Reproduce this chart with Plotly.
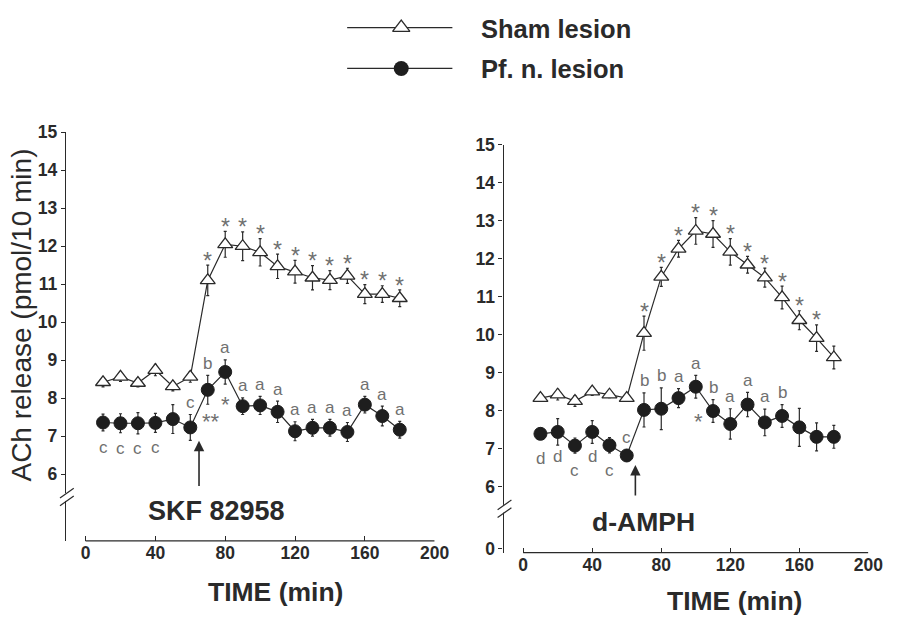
import plotly.graph_objects as go

W, H = 905, 618

# ---------------- data ----------------
time = [10, 20, 30, 40, 50, 60, 70, 80, 90, 100, 110, 120, 130, 140, 150, 160, 170, 180]

skf_sham = [8.42, 8.56, 8.40, 8.74, 8.31, 8.56, 11.10, 12.05, 12.00, 11.84, 11.47, 11.33,
            11.17, 11.11, 11.22, 10.74, 10.74, 10.63]
skf_sham_err = [0.12, 0.12, 0.10, 0.15, 0.12, 0.14, 0.40, 0.34, 0.38, 0.36, 0.32, 0.30,
                0.32, 0.25, 0.20, 0.25, 0.22, 0.22]
skf_pf = [7.36, 7.34, 7.34, 7.35, 7.45, 7.23, 8.22, 8.69, 7.79, 7.81, 7.64, 7.13,
          7.22, 7.22, 7.11, 7.83, 7.53, 7.17]
skf_pf_err = [0.22, 0.25, 0.28, 0.25, 0.38, 0.34, 0.38, 0.32, 0.22, 0.24, 0.28, 0.25,
              0.22, 0.22, 0.25, 0.22, 0.26, 0.22]

amph_sham = [8.33, 8.42, 8.25, 8.50, 8.42, 8.33, 10.04, 11.52, 12.26, 12.73, 12.65, 12.18,
             11.84, 11.50, 10.98, 10.38, 9.91, 9.40]
amph_sham_err = [0.08, 0.14, 0.14, 0.10, 0.08, 0.08, 0.45, 0.25, 0.22, 0.35, 0.35, 0.35,
                 0.22, 0.25, 0.30, 0.25, 0.35, 0.30]
amph_pf = [7.39, 7.44, 7.08, 7.44, 7.09, 6.82, 8.02, 8.05, 8.33, 8.63, 7.99, 7.65,
           8.16, 7.69, 7.86, 7.56, 7.31, 7.31]
amph_pf_err = [0.15, 0.35, 0.20, 0.30, 0.20, 0.15, 0.45, 0.55, 0.25, 0.30, 0.30, 0.40,
               0.32, 0.35, 0.30, 0.50, 0.37, 0.30]

# significance marks
skf_sham_stars = [70, 80, 90, 100, 110, 120, 130, 140, 150, 160, 170, 180]
amph_sham_stars = [70, 80, 90, 100, 110, 120, 130, 140, 150, 160, 170]
skf_pf_above = {60: "c", 70: "b", 80: "a", 90: "a", 100: "a", 110: "a", 120: "a",
                130: "a", 140: "a", 150: "a", 160: "a", 170: "a", 180: "a"}
skf_pf_below = {10: "c", 20: "c", 30: "c", 40: "c", 70: "**", 80: "*"}
amph_pf_above = {60: "c", 70: "b", 80: "b", 90: "a", 100: "a", 110: "b", 120: "a",
                 130: "a", 140: "a", 150: "b"}
amph_pf_below = {10: "d", 20: "d", 30: "c", 40: "d", 50: "c"}
amph_pf_side = {110: "*"}

yticks = [6, 7, 8, 9, 10, 11, 12, 13, 14, 15]
xticks = [0, 40, 80, 120, 160, 200]
injection_time = 65

# ---------------- styling helpers ----------------
FONT = "Arial, Liberation Sans, sans-serif"
INK = "#2a2a2a"
GRAY = "#707070"


def px(x):
    return x / W


def py(y):
    return 1 - y / H


fig = go.Figure()


def add_panel(xa, ya, sham, sham_err, pf, pf_err):
    fig.add_trace(go.Scatter(
        x=time, y=sham, xaxis=xa, yaxis=ya, mode="lines+markers",
        line=dict(color=INK, width=1.2),
        marker=dict(symbol="triangle-up", size=13, color="white",
                    line=dict(color=INK, width=1.3)),
        error_y=dict(type="data", array=sham_err, color=INK, thickness=1.2, width=1.5),
        showlegend=False))
    fig.add_trace(go.Scatter(
        x=time, y=pf, xaxis=xa, yaxis=ya, mode="lines+markers",
        line=dict(color=INK, width=1.2),
        marker=dict(symbol="circle", size=13, color="#1e1e1e",
                    line=dict(color="#1e1e1e", width=1)),
        error_y=dict(type="data", array=pf_err, color=INK, thickness=1.2, width=1.5),
        showlegend=False))


add_panel("x", "y", skf_sham, skf_sham_err, skf_pf, skf_pf_err)
add_panel("x2", "y2", amph_sham, amph_sham_err, amph_pf, amph_pf_err)

annotations = []


def note(**kw):
    kw.setdefault("xanchor", "center")
    kw.setdefault("yanchor", "middle")
    kw.setdefault("showarrow", False)
    annotations.append(kw)


def star_marks(xr, yr, times, vals, errs):
    for t in times:
        i = time.index(t)
        note(x=t, y=vals[i] + errs[i] + 0.30, xref=xr, yref=yr, text="*", yshift=-7,
             font=dict(family=FONT, size=23, color=GRAY))


def letter_marks(xr, yr, above, below, vals, errs, side=None):
    for t, s in above.items():
        i = time.index(t)
        note(x=t, y=vals[i] + errs[i] + 0.32, xref=xr, yref=yr, text=s,
             font=dict(family=FONT, size=17, color=GRAY))
    for t, s in below.items():
        i = time.index(t)
        star = "*" in s
        note(x=t + (2 if s == "**" else 0), y=vals[i] - 0.66, xref=xr, yref=yr, text=s,
             yshift=-7 if star else 0,
             font=dict(family=FONT, size=22 if star else 17, color=GRAY))
    if side:
        for t, s in side.items():
            i = time.index(t)
            note(x=t, y=vals[i] - 0.1, xref=xr, yref=yr, xshift=-15, text=s, yshift=-7,
                 font=dict(family=FONT, size=22, color=GRAY))


star_marks("x", "y", skf_sham_stars, skf_sham, skf_sham_err)
star_marks("x2", "y2", amph_sham_stars, amph_sham, amph_sham_err)
letter_marks("x", "y", skf_pf_above, skf_pf_below, skf_pf, skf_pf_err)
letter_marks("x2", "y2", amph_pf_above, amph_pf_below, amph_pf, amph_pf_err, amph_pf_side)

# injection arrows and labels
note(x=injection_time, y=6.88, ax=injection_time, ay=5.65, xref="x", yref="y",
     axref="x", ayref="y", text="", showarrow=True, arrowhead=2,
     arrowsize=1.3, arrowwidth=1.6, arrowcolor=INK)
note(x=injection_time, y=6.57, ax=injection_time, ay=5.73, xref="x2", yref="y2",
     axref="x2", ayref="y2", text="", showarrow=True, arrowhead=2,
     arrowsize=1.3, arrowwidth=1.6, arrowcolor=INK)
note(x=px(220), y=py(514), xref="paper", yref="paper", text="<b>SKF 82958</b>",
     font=dict(family=FONT, size=27, color=INK))
note(x=px(654), y=py(526), xref="paper", yref="paper", text="<b>d-AMPH</b>",
     font=dict(family=FONT, size=26.5, color=INK))

# axis titles
note(x=px(280), y=py(597), xref="paper", yref="paper", text="<b>TIME (min)</b>",
     font=dict(family=FONT, size=26.5, color=INK))
note(x=px(747), y=py(607), xref="paper", yref="paper", text="<b>TIME (min)</b>",
     font=dict(family=FONT, size=26.5, color=INK))
note(x=px(22), y=py(313), xref="paper", yref="paper",
     text="ACh release (pmol/10 min)", textangle=-90,
     font=dict(family=FONT, size=28, color=INK))

# legend text
note(x=px(487), y=py(19), xref="paper", yref="paper", xanchor="left",
     text="<b>Sham lesion</b>", font=dict(family=FONT, size=25.5, color=INK))
note(x=px(487), y=py(61), xref="paper", yref="paper", xanchor="left",
     text="<b>Pf. n. lesion</b>", font=dict(family=FONT, size=25.5, color=INK))

# legend glyphs on an overlay pixel axis
fig.add_trace(go.Scatter(x=[353, 408, 460], y=[18, 18, 18], xaxis="x3", yaxis="y3",
                         mode="lines", line=dict(color=INK, width=1.2), showlegend=False,
                         hoverinfo="skip"))
fig.add_trace(go.Scatter(x=[408], y=[18], xaxis="x3", yaxis="y3", mode="markers",
                         marker=dict(symbol="triangle-up", size=15, color="white",
                                     line=dict(color=INK, width=1.3)),
                         showlegend=False, hoverinfo="skip"))
fig.add_trace(go.Scatter(x=[353, 408, 460], y=[60, 60, 60], xaxis="x3", yaxis="y3",
                         mode="lines", line=dict(color=INK, width=1.2), showlegend=False,
                         hoverinfo="skip"))
fig.add_trace(go.Scatter(x=[408], y=[60], xaxis="x3", yaxis="y3", mode="markers",
                         marker=dict(symbol="circle", size=15, color="#1e1e1e"),
                         showlegend=False, hoverinfo="skip"))

shapes = []
# detached x-axis lines
shapes.append(dict(type="line", xref="x", yref="y domain", x0=0, x1=200, y0=0, y1=0,
                   line=dict(color=INK, width=1.3)))
shapes.append(dict(type="line", xref="x2", yref="y2 domain", x0=0, x1=200, y0=0, y1=0,
                   line=dict(color=INK, width=1.3)))


def axis_break(cx, cy):
    shapes.append(dict(type="rect", xref="paper", yref="paper", x0=px(cx - 3), x1=px(cx + 3),
                       y0=py(cy + 4), y1=py(cy - 4), line=dict(width=0), fillcolor="white"))
    for dy in (-4, 4):
        shapes.append(dict(type="line", xref="paper", yref="paper",
                           x0=px(cx - 7), y0=py(cy + dy + 5), x1=px(cx + 7), y1=py(cy + dy - 5),
                           line=dict(color=INK, width=1.2)))


axis_break(68, 500)
axis_break(513, 512)

tick_font = dict(family=FONT, size=17.5, color=INK, weight="bold")
axis_common = dict(showgrid=False, zeroline=False, tickfont=tick_font, tickcolor=INK)

fig.update_layout(
    width=W, height=H, margin=dict(l=0, r=0, t=0, b=0),
    paper_bgcolor="white", plot_bgcolor="rgba(0,0,0,0)",
    showlegend=False,
    xaxis=dict(domain=[px(67), px(442)], range=[-11.27, 200], tickvals=xticks,
               ticks="inside", ticklen=5, showline=False, **axis_common),
    yaxis=dict(domain=[py(545), py(125.5)], range=[15 - 419.5 / 39, 15], tickvals=yticks,
               ticks="outside", ticklen=4, showline=True, linecolor=INK, linewidth=1.3,
               **axis_common),
    xaxis2=dict(domain=[px(512), px(883)], range=[-11.4, 200], tickvals=xticks, anchor="y2",
                ticks="inside", ticklen=5, showline=False, **axis_common),
    yaxis2=dict(domain=[py(557), py(138.3)], range=[15 - 418.7 / 39, 15], anchor="x2",
                tickvals=[15 - (553 - 138.3) / 39] + yticks,
                ticktext=["0"] + [str(v) for v in yticks],
                ticks="outside", ticklen=4, showline=True, linecolor=INK, linewidth=1.3,
                **axis_common),
    xaxis3=dict(domain=[0, 1], range=[0, W], visible=False, anchor="y3"),
    yaxis3=dict(domain=[0, 1], range=[H, 0], visible=False, anchor="x3"),
    annotations=annotations,
    shapes=shapes,
)

fig.write_html("out.html")
